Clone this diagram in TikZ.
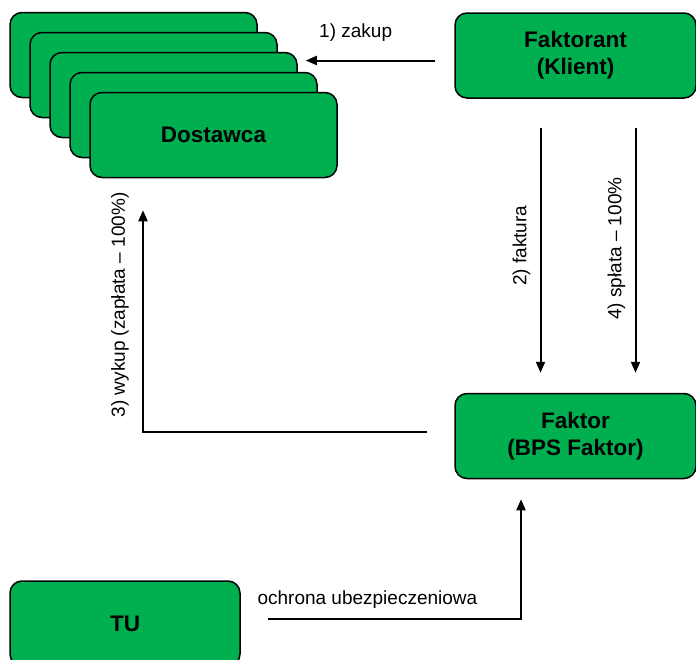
\documentclass[tikz,border=0pt]{standalone}
\usepackage{fontspec}
\setmainfont{Liberation Sans}
\usetikzlibrary{shapes,arrows.meta,positioning}
\definecolor{boxgreen}{HTML}{00B050}
\tikzstyle{party} = [rectangle, draw, fill=boxgreen, line width=1.5pt,
    align=center, rounded corners=12pt, minimum width=247pt, minimum height=85pt,
    font=\bfseries\fontsize{22.5}{27}\selectfont]
\tikzstyle{flow} = [draw, line width=2pt, -{Triangle[length=11pt,width=9pt]}]
\tikzstyle{flowlabel} = [font=\fontsize{19}{23}\selectfont]

\begin{document}
\begin{tikzpicture}[x=1pt, y=-1pt]
    \clip (0,0) rectangle (696,659);
    \foreach \i in {0,...,3}
        \node[party] (supplier\i) at (133.5+20*\i, 55+20*\i) {};
    \node[party] (dostawca) at (213.5,135) {Dostawca};

    \node[party, minimum width=241pt] (faktorant) at (575.5,55.5) {Faktorant\\(Klient)};
    \node[party, minimum width=241pt, below=294pt of faktorant] (faktor) {Faktor\\(BPS Faktor)};
    \node[party, minimum width=230pt] (tu) at (125,623.5) {TU};

    \path[flow, shorten <=19pt, shorten >=8pt] ([yshift=-5pt]faktorant.west)
        -- ([yshift=-5pt]faktorant.west -| supplier2.east)
        node[flowlabel, pos=0.63, yshift=28pt] {1) zakup};
    \path[flow, shorten <=29pt, shorten >=20pt] ([xshift=-35pt]faktorant.south)
        -- ([xshift=-35pt]faktor.north)
        node[flowlabel, pos=0.5, xshift=-19pt, rotate=90] {2) faktura};
    \path[flow, shorten <=27pt, shorten >=32pt] ([yshift=4.5pt]faktor.west)
        -| ([xshift=-70.5pt]dostawca.south)
        node[flowlabel, pos=0.75, xshift=-23pt, rotate=90] {3) wykup (zapłata – 100\%)};
    \path[flow, shorten <=29pt, shorten >=20pt] ([xshift=60pt]faktorant.south)
        -- ([xshift=60pt]faktor.north)
        node[flowlabel, pos=0.51, xshift=-19pt, rotate=90] {4) spłata – 100\%};

    \path[flow, shorten <=27pt, shorten >=20pt] ([yshift=4.5pt]tu.east)
        -| ([xshift=-54.5pt]faktor.south)
        node[flowlabel, pos=0.226, yshift=19pt] {ochrona ubezpieczeniowa};
\end{tikzpicture}
\end{document}
